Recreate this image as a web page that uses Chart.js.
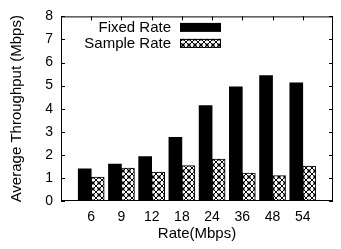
<!DOCTYPE html>
<html><head><meta charset="utf-8">
<script src="https://cdn.jsdelivr.net/npm/chart.js@4/dist/chart.umd.min.js"></script>
<style>html,body{margin:0;padding:0;background:#fff}#wrap{width:341px;height:249px}</style>
</head><body><div id="wrap"><canvas id="c" width="341" height="249"></canvas></div>
<script>
const categories = ['', '6', '9', '12', '18', '24', '36', '48', '54', ''];
const fixedRate  = [0, 1.39, 1.60, 1.93, 2.76, 4.14, 4.95, 5.43, 5.12, null];
const sampleRate = [0, 1.04, 1.43, 1.25, 1.54, 1.82, 1.21, 1.10, 1.51, null];
const seriesNames = ['Fixed Rate', 'Sample Rate'];
const yMin = 0, yMax = 8, yStep = 1;
const xTitle = 'Rate(Mbps)';
const yTitle = 'Average Throughput (Mbps)';

function makeHatch() {
  const s = 6;
  const c = document.createElement('canvas');
  c.width = s; c.height = s;
  const g = c.getContext('2d');
  g.fillStyle = '#fff'; g.fillRect(0, 0, s, s);
  g.strokeStyle = '#000'; g.lineWidth = 1;
  g.beginPath();
  g.moveTo(0, 0); g.lineTo(s, s);
  g.moveTo(s, 0); g.lineTo(0, s);
  g.stroke();
  g.beginPath(); g.arc(s/2, s/2, 1.2, 0, Math.PI*2); g.stroke();
  return g.createPattern(c, 'repeat');
}
const hatch = makeHatch();
const FONT = 'Liberation Sans, Arial, Helvetica, sans-serif';

const framePlugin = {
  id: 'frame',
  afterDatasetsDraw(chart) {
    const {ctx, chartArea: a, scales} = chart;
    ctx.save();
    ctx.strokeStyle = '#000'; ctx.lineWidth = 1;
    ctx.strokeRect(a.left + 0.5, a.top + 0.5, a.right - a.left - 1, a.bottom - a.top - 1);
    const tl = 4;
    ctx.beginPath();
    categories.forEach((lab, i) => {
      if (!lab) return;
      const x = Math.round(scales.x.getPixelForValue(i)) + 0.5;
      ctx.moveTo(x, a.top); ctx.lineTo(x, a.top + tl);
      ctx.moveTo(x, a.bottom); ctx.lineTo(x, a.bottom - tl);
    });
    scales.y.ticks.forEach(t => {
      const y = Math.round(scales.y.getPixelForValue(t.value)) + 0.5;
      ctx.moveTo(a.left, y); ctx.lineTo(a.left + tl, y);
      ctx.moveTo(a.right, y); ctx.lineTo(a.right - tl, y);
    });
    ctx.stroke();
    ctx.font = '15px ' + FONT;
    ctx.textAlign = 'right'; ctx.textBaseline = 'middle';
    chart.data.datasets.forEach((ds, i) => {
      const cy = a.top + 11 + i * 16;
      ctx.fillStyle = '#000';
      ctx.fillText(ds.label, a.left + 110, cy);
      const x0 = a.left + 119, w = 41, h = 9;
      ctx.fillStyle = ds.backgroundColor;
      ctx.fillRect(x0, cy - h/2, w, h);
      if (ds.borderWidth) { ctx.strokeStyle = '#000'; ctx.lineWidth = 1; ctx.strokeRect(x0 + 0.5, cy - h/2 + 0.5, w - 1, h - 1); }
    });
    ctx.restore();
  }
};

new Chart(document.getElementById('c'), {
  type: 'bar',
  data: {
    labels: categories,
    datasets: [
      { label: seriesNames[0], data: fixedRate, backgroundColor: '#000', borderWidth: 0, barThickness: 13 },
      { label: seriesNames[1], data: sampleRate, backgroundColor: hatch, borderColor: '#000', borderWidth: 1, barThickness: 13 }
    ]
  },
  options: {
    responsive: false, animation: false,
    layout: { padding: { top: 9, right: 1, left: 0, bottom: 0 } },
    plugins: { legend: { display: false }, tooltip: { enabled: false } },
    scales: {
      x: {
        offset: false,
        grid: { display: false, drawTicks: false, offset: false },
        border: { display: false },
        ticks: { color: '#000', font: { family: FONT, size: 14 }, padding: 8, maxRotation: 0, autoSkip: false },
        title: { display: true, text: xTitle, color: '#000', font: { family: FONT, size: 15 }, padding: { top: 6, bottom: 6 } },
        afterFit(s) { s.height = 48; }
      },
      y: {
        min: yMin, max: yMax,
        grid: { display: false, drawTicks: false },
        border: { display: false },
        ticks: { stepSize: yStep, color: '#000', font: { family: FONT, size: 14 }, padding: 8 },
        title: { display: true, text: yTitle, color: '#000', font: { family: FONT, size: 15 }, padding: { top: 8, bottom: 8 } },
        afterFit(s) { s.width = 61; }
      }
    }
  },
  plugins: [framePlugin]
});
</script></body></html>
